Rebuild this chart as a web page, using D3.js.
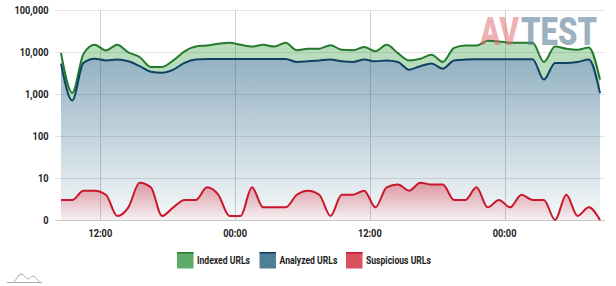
<!DOCTYPE html>
<html>
<head>
<meta charset="utf-8">
<script src="https://cdn.jsdelivr.net/npm/d3@7"></script>
<style>
  body { margin: 0; background: #fff; }
  svg { display: block; font-family: Roboto, "Noto Sans", sans-serif; }
</style>
</head>
<body>
<svg id="chart" width="616" height="286"></svg>
<script>
// hourly samples, first one at 08:30
var startTime = Date.UTC(2021, 0, 4, 8, 30);
var hours = d3.range(49).map(function(i) { return new Date(startTime + i * 3600e3); });

var indexed = [9500, 1070, 9000, 14800, 10900, 14800, 9800, 7600, 4400, 4400, 6300, 10400, 13500,
  14300, 15700, 16500, 14800, 13500, 14800, 13500, 16500, 11000, 12000, 12000, 14500,
  11300, 11000, 13100, 10400, 14800, 9400, 6300, 6900, 8600, 5800, 12500, 14300, 14300,
  18500, 17900, 16500, 16500, 16500, 5800, 13500, 12000, 11300, 12800, 2200];

var analyzed = [5300, 700, 5500, 6900, 6300, 6600, 6000, 4600, 3400, 3200, 3800, 5500, 6600,
  6800, 6800, 6800, 6800, 6800, 6800, 6800, 6800, 5800, 6000, 6300, 6600,
  6000, 5800, 6600, 6000, 6300, 5800, 3800, 4600, 5300, 4000, 6300, 6600, 6700,
  6700, 6700, 6700, 6700, 6700, 2200, 5500, 5500, 5800, 6600, 1050];

var suspicious = [3, 3, 5, 5, 4, 1.25, 2, 7.7, 6, 1.25, 2, 3, 3, 6, 4, 1.25, 1.25, 6, 2, 2, 2, 4, 5, 4, 1.25,
  4, 4, 5, 2, 6, 7, 5, 7.7, 7, 7, 3, 3, 6, 2, 3, 2, 4, 3, 3, 1, 4, 1.25, 2, 1];

var yTicks = [1, 10, 100, 1000, 10000, 100000];
var yTickLabels = ["0", "10", "100", "1,000", "10,000", "100,000"];
var seriesNames = ["Indexed URLs", "Analyzed URLs", "Suspicious URLs"];

var svg = d3.select("#chart");
var x = d3.scaleUtc().domain([hours[0], hours[hours.length - 1]]).range([61, 600]);
var y = d3.scaleLog().domain([1, 100000]).range([220, 10]);

// squeeze text a bit, the original font is condensed
function condense(sel, k) {
  sel.each(function() {
    var w = this.getComputedTextLength();
    d3.select(this).attr("textLength", w * k).attr("lengthAdjust", "spacingAndGlyphs");
  });
}

var defs = svg.append("defs");
function grad(id, color, y1, y2, o1, o2) {
  var g = defs.append("linearGradient").attr("id", id)
    .attr("gradientUnits", "userSpaceOnUse")
    .attr("x1", 0).attr("x2", 0).attr("y1", y1).attr("y2", y2);
  g.append("stop").attr("offset", 0).attr("stop-color", color).attr("stop-opacity", o1);
  g.append("stop").attr("offset", 1).attr("stop-color", color).attr("stop-opacity", o2);
}
grad("gBlue", "#1d5d80", 50, 220, 0.5, 0.04);
grad("gRed", "#e02a3c", 180, 220, 0.45, 0.03);

// grid
svg.append("g").selectAll("line").data(yTicks.slice(1)).join("line")
  .attr("x1", 55).attr("x2", 605)
  .attr("y1", function(d) { return Math.round(y(d)) + 0.5; })
  .attr("y2", function(d) { return Math.round(y(d)) + 0.5; })
  .attr("stroke", "#e3e3e3");

var xTicks = x.ticks(d3.utcHour.every(12));
svg.append("g").selectAll("line").data(xTicks).join("line")
  .attr("x1", function(d) { return Math.round(x(d)) + 0.5; })
  .attr("x2", function(d) { return Math.round(x(d)) + 0.5; })
  .attr("y1", 10).attr("y2", 220)
  .attr("stroke", "#d0d0d0");

var curve = d3.curveMonotoneX;
var idx = d3.range(hours.length);

// areas
svg.append("path").datum(idx)
  .attr("fill", "#2e9a3a").attr("fill-opacity", 0.34)
  .attr("d", d3.area().curve(curve)
    .x(function(i) { return x(hours[i]); })
    .y0(function(i) { return y(analyzed[i]); })
    .y1(function(i) { return y(indexed[i]); }));

svg.append("path").datum(idx)
  .attr("fill", "url(#gBlue)")
  .attr("d", d3.area().curve(curve)
    .x(function(i) { return x(hours[i]); })
    .y0(220)
    .y1(function(i) { return y(analyzed[i]); }));

svg.append("path").datum(idx)
  .attr("fill", "url(#gRed)")
  .attr("d", d3.area().curve(curve)
    .x(function(i) { return x(hours[i]); })
    .y0(220)
    .y1(function(i) { return y(suspicious[i]); }));

// bottom axis line
svg.append("line").attr("x1", 55).attr("x2", 605).attr("y1", 220.5).attr("y2", 220.5)
  .attr("stroke", "#c8c8c8");

// lines
function drawLine(vals, color) {
  svg.append("path").datum(idx)
    .attr("fill", "none").attr("stroke", color).attr("stroke-width", 2)
    .attr("stroke-linejoin", "round")
    .attr("d", d3.line().curve(curve)
      .x(function(i) { return x(hours[i]); })
      .y(function(i) { return y(vals[i]); }));
}
drawLine(indexed, "#237a2c");
drawLine(analyzed, "#0e4264");
drawLine(suspicious, "#c8172a");

// y labels
svg.append("g").selectAll("text").data(yTicks).join("text")
  .attr("x", 48.5).attr("y", function(d) { return y(d) + 3.8; })
  .attr("text-anchor", "end").attr("font-size", 11).attr("font-weight", 700)
  .attr("fill", "#222")
  .text(function(d, i) { return yTickLabels[i]; })
  .call(condense, 0.84);

// x labels
svg.append("g").selectAll("text").data(xTicks).join("text")
  .attr("x", function(d) { return x(d); }).attr("y", 236.5)
  .attr("text-anchor", "middle").attr("font-size", 11).attr("font-weight", 700)
  .attr("fill", "#222")
  .text(d3.utcFormat("%H:%M"))
  .call(condense, 0.84);

// watermark, squeezed with a transform so its box is the real one
function logoPart(txt, x0, w, color, op) {
  var t = svg.append("text").attr("x", 0).attr("y", 0)
    .attr("font-weight", 900).attr("font-size", 39)
    .attr("fill", color).attr("fill-opacity", op).text(txt);
  var k = w / t.node().getComputedTextLength();
  t.attr("transform", "translate(" + x0 + ",45) scale(" + k + ",1)");
}
logoPart("AV", 480, 39, "#e06666", 0.5);
logoPart("TEST", 521, 76, "#5a7d96", 0.6);

// legend
var legend = [
  { name: seriesNames[0], x: 177, fill: "#5fab6b", top: "#1f7a2b" },
  { name: seriesNames[1], x: 259.5, fill: "#4e7f96", top: "#123f5c" },
  { name: seriesNames[2], x: 346, fill: "#d9535f", top: "#c8172a" }
];
var lg = svg.append("g").selectAll("g").data(legend).join("g");
lg.append("rect").attr("x", function(d) { return d.x; }).attr("y", 252)
  .attr("width", 16.5).attr("height", 16.5).attr("fill", function(d) { return d.fill; });
lg.append("rect").attr("x", function(d) { return d.x; }).attr("y", 252)
  .attr("width", 16.5).attr("height", 1.5).attr("fill", function(d) { return d.top; });
lg.append("text").attr("x", function(d) { return d.x + 20; }).attr("y", 263.5)
  .attr("font-size", 10).attr("font-weight", 700).attr("fill", "#222")
  .text(function(d) { return d.name; })
  .call(condense, 0.86);

// little mountain icon bottom left
svg.append("path")
  .attr("d", "M7,282.5 H42 M13,282.5 C17,280 18,274 21,274 C24,274 26,279 28,279 C30,279 31,276 33,276 C36,276 37,281 40,282.5")
  .attr("fill", "none").attr("stroke", "#aaa").attr("stroke-width", 1);
</script>
</body>
</html>
